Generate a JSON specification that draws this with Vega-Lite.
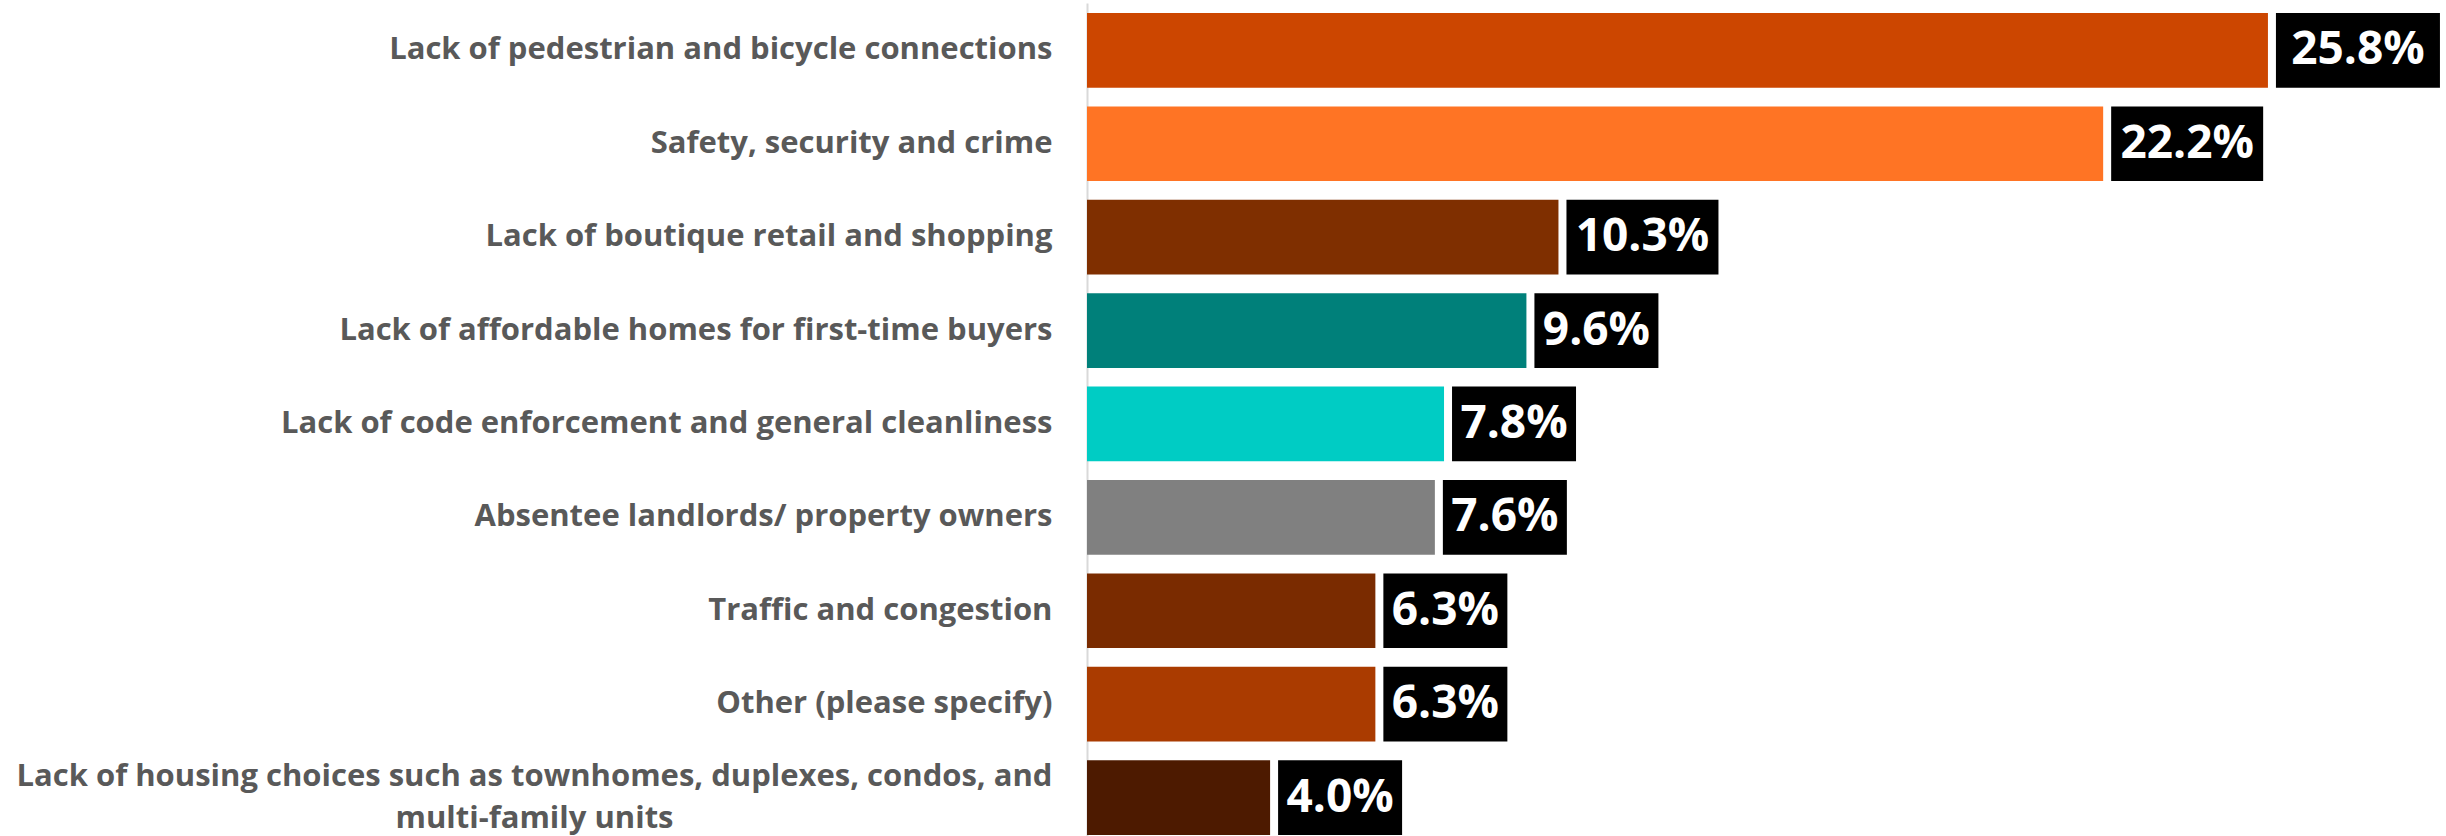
{
  "$schema": "https://vega.github.io/schema/vega-lite/v6.json",
  "width": 1359,
  "height": 833,
  "autosize": {"type": "none"},
  "padding": {"left": 1087, "top": 3, "right": 0, "bottom": 0},
  "background": "white",
  "config": {"view": {"stroke": null}},
  "data": {
    "values": [
      {"category": "Lack of pedestrian and bicycle connections", "value": 0.258},
      {"category": "Safety, security and crime", "value": 0.222},
      {"category": "Lack of boutique retail and shopping", "value": 0.103},
      {"category": "Lack of affordable homes for first-time buyers", "value": 0.096},
      {"category": "Lack of code enforcement and general cleanliness", "value": 0.078},
      {"category": "Absentee landlords/ property owners", "value": 0.076},
      {"category": "Traffic and congestion", "value": 0.063},
      {"category": "Other (please specify)", "value": 0.063},
      {"category": "Lack of housing choices such as townhomes, duplexes, condos, and multi-family units", "value": 0.04}
    ]
  },
  "encoding": {
    "y": {
      "field": "category",
      "type": "nominal",
      "sort": null,
      "scale": {"paddingInner": 0.2, "paddingOuter": 0.0594, "align": 0.9},
      "axis": {
        "title": null,
        "ticks": false,
        "domainColor": "#D9D9D9",
        "domainWidth": 2,
        "labelFont": "Open Sans",
        "labelFontWeight": "bold",
        "labelFontSize": 31,
        "labelColor": "#595959",
        "labelPadding": {"condition": {"test": "length(datum.value) > 70", "value": 553}, "value": 35},
        "labelAlign": {"condition": {"test": "length(datum.value) > 70", "value": "center"}, "value": "right"},
        "labelOffset": {"condition": {"test": "length(datum.value) > 70", "value": -21}, "value": 0},
        "labelLimit": 1100,
        "labelLineHeight": 42,
        "labelExpr": "length(datum.label) > 70 ? [substring(datum.label, 0, 64), substring(datum.label, 65)] : datum.label"
      }
    },
    "x": {
      "field": "value",
      "type": "quantitative",
      "scale": {"domain": [0, 0.2969], "nice": false, "zero": true},
      "axis": null
    }
  },
  "layer": [
    {
      "mark": {"type": "bar"},
      "encoding": {
        "color": {
          "field": "category",
          "type": "nominal",
          "legend": null,
          "scale": {
            "domain": [
              "Lack of pedestrian and bicycle connections",
              "Safety, security and crime",
              "Lack of boutique retail and shopping",
              "Lack of affordable homes for first-time buyers",
              "Lack of code enforcement and general cleanliness",
              "Absentee landlords/ property owners",
              "Traffic and congestion",
              "Other (please specify)",
              "Lack of housing choices such as townhomes, duplexes, condos, and multi-family units"
            ],
            "range": ["#CC4600", "#FF7424", "#7F2F00", "#00807A", "#00CCC4", "#808080", "#7A2B00", "#AA3B00", "#4D1A00"]
          }
        }
      }
    },
    {
      "transform": [{"filter": "datum.value >= 0.25"}],
      "mark": {"type": "bar", "color": "black", "xOffset": 8, "x2Offset": 172},
      "encoding": {"x2": {"field": "value"}}
    },
    {
      "transform": [{"filter": "datum.value >= 0.1 && datum.value < 0.25"}],
      "mark": {"type": "bar", "color": "black", "xOffset": 8, "x2Offset": 160},
      "encoding": {"x2": {"field": "value"}}
    },
    {
      "transform": [{"filter": "datum.value < 0.1"}],
      "mark": {"type": "bar", "color": "black", "xOffset": 8, "x2Offset": 132},
      "encoding": {"x2": {"field": "value"}}
    },
    {
      "transform": [{"filter": "datum.value >= 0.25"}],
      "mark": {"type": "text", "dx": 90, "align": "center", "baseline": "middle", "font": "Open Sans", "fontWeight": "bold", "fontSize": 46, "color": "white"},
      "encoding": {"text": {"field": "value", "type": "quantitative", "format": ".1%"}}
    },
    {
      "transform": [{"filter": "datum.value >= 0.1 && datum.value < 0.25"}],
      "mark": {"type": "text", "dx": 84, "align": "center", "baseline": "middle", "font": "Open Sans", "fontWeight": "bold", "fontSize": 46, "color": "white"},
      "encoding": {"text": {"field": "value", "type": "quantitative", "format": ".1%"}}
    },
    {
      "transform": [{"filter": "datum.value < 0.1"}],
      "mark": {"type": "text", "dx": 70, "align": "center", "baseline": "middle", "font": "Open Sans", "fontWeight": "bold", "fontSize": 46, "color": "white"},
      "encoding": {"text": {"field": "value", "type": "quantitative", "format": ".1%"}}
    }
  ]
}
